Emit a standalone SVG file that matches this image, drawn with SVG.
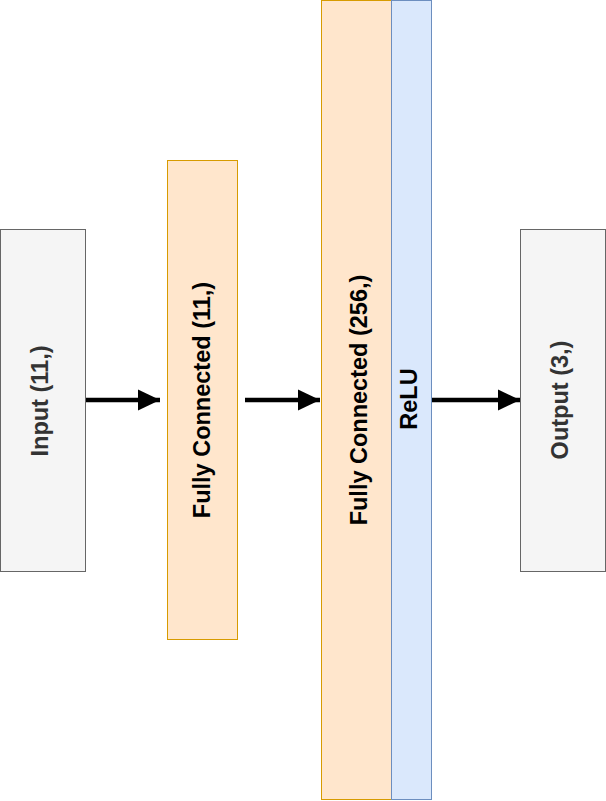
<svg xmlns="http://www.w3.org/2000/svg" width="606" height="801" viewBox="0 0 606 801">
<style>
.lbl{font-family:"Liberation Sans",Arial,Helvetica,sans-serif;font-weight:bold;font-size:23.5px;text-anchor:middle}
.gray{fill:#f5f5f5;stroke:#666666;stroke-width:1}
.orange{fill:#ffe6cc;stroke:#d79b00;stroke-width:1}
.blue{fill:#dae8fc;stroke:#6c8ebf;stroke-width:1}
.conn{stroke:#000000;stroke-width:4.5;fill:none}
</style>
<defs>
<marker id="arr" markerUnits="userSpaceOnUse" markerWidth="24" markerHeight="24" viewBox="0 0 24 24" refX="22" refY="12" orient="auto">
<path d="M0,1.5 L22,12 L0,22.5 Z" fill="#000000"/>
</marker>
</defs>
<rect width="606" height="801" fill="#ffffff"/>
<g id="input">
<rect class="gray" x="0.5" y="229.5" width="85" height="342"/>
<text class="lbl" fill="#333333" transform="translate(48,401) rotate(-90)">Input (11,)</text>
</g>
<g id="fc1">
<rect class="orange" x="167.5" y="160.5" width="70" height="479"/>
<text class="lbl" fill="#000000" transform="translate(210,400) rotate(-90)">Fully Connected (11,)</text>
</g>
<g id="fc2">
<rect class="orange" x="321.5" y="0.5" width="70" height="799"/>
<text class="lbl" fill="#000000" transform="translate(367,400) rotate(-90)">Fully Connected (256,)</text>
</g>
<g id="relu">
<rect class="blue" x="391.5" y="0.5" width="40" height="799"/>
<text class="lbl" fill="#000000" transform="translate(417,399) rotate(-90)">ReLU</text>
</g>
<g id="output">
<rect class="gray" x="520.5" y="229.5" width="85" height="342"/>
<text class="lbl" fill="#333333" transform="translate(568,400) rotate(-90)">Output (3,)</text>
</g>
<g id="connectors">
<line class="conn" x1="86" y1="400" x2="160" y2="400" marker-end="url(#arr)"/>
<line class="conn" x1="245" y1="400" x2="320" y2="400" marker-end="url(#arr)"/>
<line class="conn" x1="432" y1="400" x2="520" y2="400" marker-end="url(#arr)"/>
</g>
</svg>
